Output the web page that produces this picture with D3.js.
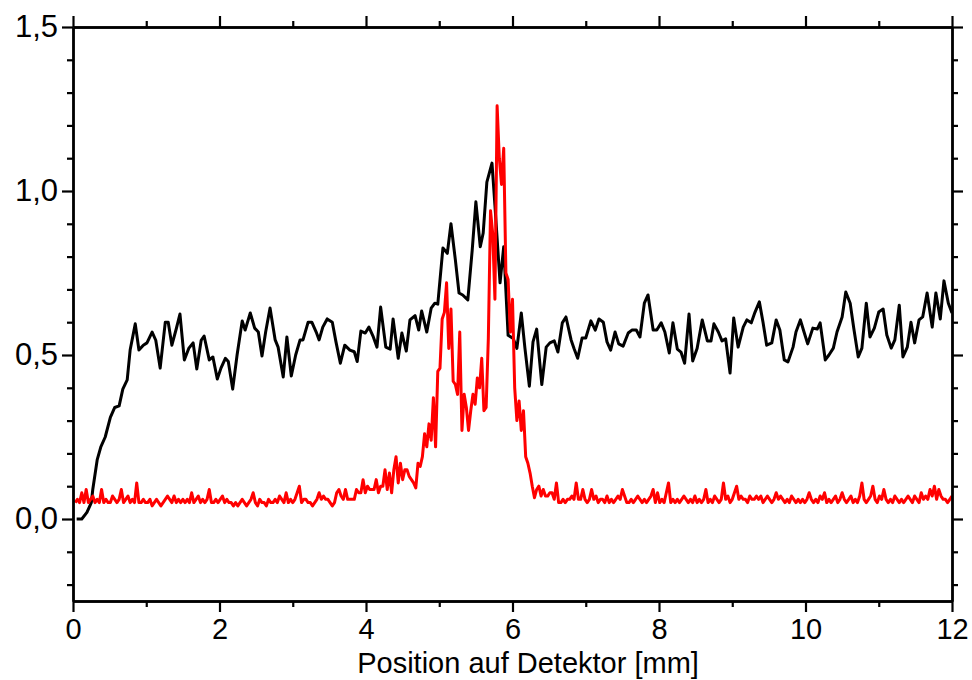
<!DOCTYPE html>
<html><head><meta charset="utf-8">
<script src="https://cdn.jsdelivr.net/npm/d3@7"></script>
<style>body{margin:0;background:#fff;} text{font-family:"Liberation Sans",Arial,sans-serif;}</style>
</head><body><svg id="c" width="972" height="680"></svg>
<script>
// ---- data ----
const blackPos = [0.05,0.12,0.19,0.25,0.27,0.33,0.38,0.44,0.51,0.57,0.63,0.68,0.74,0.78,0.85,0.90,0.96,1.01,1.08,1.13,1.19,1.26,1.30,1.35,1.41,1.46,1.52,1.58,1.64,1.69,1.75,1.79,1.86,1.91,1.97,2.02,2.08,2.12,2.18,2.24,2.31,2.35,2.42,2.48,2.53,2.58,2.63,2.69,2.76,2.80,2.87,2.92,2.98,3.04,3.10,3.14,3.21,3.26,3.32,3.36,3.41,3.47,3.54,3.59,3.65,3.71,3.78,3.84,3.88,3.93,3.99,4.04,4.10,4.15,4.20,4.27,4.33,4.37,4.44,4.49,4.55,4.60,4.67,4.72,4.76,4.83,4.89,4.94,4.98,5.05,5.11,5.16,5.22,5.27,5.32,5.39,5.45,5.50,5.56,5.60,5.65,5.72,5.76,5.83,5.88,5.94,6.01,6.06,6.12,6.17,6.23,6.28,6.33,6.40,6.46,6.51,6.57,6.62,6.68,6.73,6.80,6.84,6.89,6.95,7.00,7.07,7.13,7.18,7.24,7.29,7.34,7.40,7.45,7.51,7.58,7.63,7.69,7.74,7.80,7.85,7.92,7.97,8.03,8.08,8.14,8.19,8.25,8.30,8.35,8.41,8.46,8.52,8.59,8.66,8.71,8.75,8.81,8.86,8.91,8.97,9.02,9.08,9.15,9.20,9.26,9.31,9.37,9.42,9.47,9.54,9.60,9.65,9.71,9.76,9.83,9.87,9.93,9.98,10.03,10.10,10.16,10.20,10.27,10.32,10.38,10.43,10.50,10.55,10.61,10.66,10.72,10.77,10.83,10.88,10.94,11.00,11.06,11.11,11.17,11.22,11.28,11.33,11.39,11.44,11.49,11.55,11.60,11.66,11.73,11.78,11.84,11.89,11.95,12.00];
const blackVal = [0.0,0.0,0.02,0.05,0.09,0.18,0.22,0.25,0.31,0.34,0.345,0.396,0.424,0.515,0.595,0.515,0.53,0.537,0.57,0.545,0.46,0.60,0.60,0.53,0.58,0.625,0.485,0.52,0.537,0.457,0.545,0.558,0.485,0.494,0.427,0.46,0.49,0.48,0.396,0.50,0.604,0.576,0.628,0.582,0.57,0.497,0.57,0.643,0.546,0.524,0.433,0.555,0.436,0.50,0.546,0.546,0.60,0.60,0.57,0.546,0.585,0.61,0.60,0.54,0.475,0.53,0.515,0.51,0.48,0.573,0.567,0.585,0.555,0.524,0.646,0.524,0.518,0.61,0.49,0.567,0.512,0.607,0.62,0.576,0.634,0.57,0.643,0.658,0.655,0.826,0.81,0.90,0.79,0.689,0.683,0.668,0.82,0.967,0.83,0.872,1.027,1.085,0.957,0.72,0.83,0.56,0.55,0.52,0.628,0.52,0.405,0.54,0.579,0.41,0.524,0.537,0.543,0.509,0.598,0.616,0.546,0.52,0.49,0.552,0.552,0.604,0.576,0.61,0.60,0.54,0.515,0.57,0.534,0.527,0.567,0.576,0.576,0.555,0.658,0.683,0.576,0.576,0.598,0.57,0.506,0.598,0.518,0.509,0.475,0.625,0.482,0.52,0.607,0.543,0.543,0.595,0.57,0.543,0.549,0.445,0.613,0.524,0.585,0.607,0.598,0.63,0.662,0.60,0.53,0.537,0.607,0.576,0.485,0.479,0.524,0.57,0.607,0.57,0.534,0.582,0.579,0.598,0.485,0.50,0.521,0.57,0.616,0.692,0.658,0.58,0.494,0.521,0.658,0.555,0.582,0.631,0.64,0.561,0.521,0.546,0.652,0.494,0.524,0.60,0.537,0.607,0.616,0.689,0.585,0.689,0.61,0.726,0.658,0.628];
// red trace: detector sampled every 0.03 mm starting at 0.03 mm
const redStart = 0.03, redStep = 0.03;
const redVal = [
0.05,0.06,0.05,0.08,0.05,0.09,0.05,0.06,0.07,0.05,
0.06,0.05,0.09,0.05,0.06,0.05,0.05,0.07,0.06,0.05,
0.06,0.09,0.05,0.06,0.07,0.05,0.06,0.05,0.11,0.05,
0.05,0.06,0.05,0.05,0.06,0.04,0.05,0.06,0.05,0.04,
0.05,0.06,0.07,0.06,0.05,0.07,0.05,0.06,0.05,0.06,
0.05,0.06,0.05,0.08,0.05,0.06,0.07,0.05,0.06,0.05,
0.06,0.09,0.05,0.05,0.06,0.05,0.06,0.07,0.05,0.06,
0.05,0.05,0.04,0.05,0.04,0.05,0.06,0.05,0.04,0.05,
0.06,0.08,0.05,0.04,0.06,0.05,0.05,0.04,0.06,0.05,
0.05,0.06,0.05,0.07,0.06,0.05,0.08,0.05,0.06,0.05,
0.06,0.08,0.10,0.05,0.06,0.06,0.05,0.05,0.04,0.05,
0.06,0.08,0.06,0.07,0.06,0.06,0.05,0.04,0.05,0.08,
0.09,0.07,0.06,0.09,0.06,0.06,0.06,0.06,0.09,0.08,
0.08,0.12,0.08,0.10,0.09,0.09,0.09,0.12,0.08,0.10,
0.10,0.15,0.09,0.14,0.08,0.15,0.19,0.11,0.17,0.12,
0.15,0.15,0.13,0.12,0.11,0.095,0.17,0.16,0.19,0.26,
0.22,0.29,0.24,0.37,0.22,0.45,0.46,0.61,0.63,0.72,
0.52,0.64,0.42,0.41,0.38,0.57,0.27,0.38,0.34,0.27,
0.33,0.38,0.35,0.43,0.40,0.49,0.33,0.34,0.55,0.94,
0.87,0.67,1.26,1.10,1.02,1.13,0.75,0.73,0.57,0.67,
0.40,0.30,0.36,0.27,0.33,0.19,0.17,0.14,0.10,0.065,
0.09,0.10,0.07,0.09,0.07,0.07,0.08,0.08,0.06,0.11,
0.05,0.05,0.06,0.05,0.06,0.06,0.07,0.06,0.11,0.06,
0.06,0.09,0.06,0.05,0.06,0.09,0.06,0.07,0.05,0.06,
0.06,0.05,0.07,0.05,0.06,0.05,0.06,0.07,0.06,0.09,
0.07,0.05,0.05,0.06,0.05,0.06,0.07,0.06,0.05,0.06,
0.05,0.06,0.07,0.09,0.05,0.08,0.05,0.06,0.05,0.08,
0.11,0.05,0.06,0.05,0.06,0.05,0.06,0.07,0.06,0.05,
0.06,0.05,0.07,0.05,0.06,0.05,0.06,0.09,0.05,0.06,
0.05,0.07,0.06,0.05,0.06,0.11,0.06,0.07,0.05,0.06,
0.08,0.10,0.06,0.07,0.06,0.06,0.05,0.07,0.06,0.06,
0.07,0.06,0.07,0.05,0.06,0.07,0.06,0.05,0.06,0.08,
0.06,0.07,0.06,0.05,0.06,0.05,0.07,0.06,0.05,0.06,
0.05,0.06,0.05,0.06,0.08,0.06,0.05,0.06,0.05,0.07,
0.06,0.08,0.05,0.06,0.05,0.06,0.07,0.05,0.06,0.08,
0.06,0.05,0.06,0.07,0.05,0.06,0.05,0.07,0.11,0.06,
0.05,0.06,0.07,0.10,0.06,0.05,0.07,0.06,0.09,0.06,
0.05,0.06,0.05,0.07,0.06,0.05,0.06,0.05,0.06,0.07,
0.06,0.05,0.07,0.06,0.05,0.08,0.06,0.07,0.06,0.09,
0.07,0.10,0.06,0.09,0.07,0.06,0.06,0.05,0.06,0.07];
const xMajorTicks = [0,2,4,6,8,10,12];
const xMinorTicks = [1,3,5,7,9,11];
const yMajorTicks = [0,0.5,1.0,1.5];
const yMinorTicks = [-0.2,-0.1,0.1,0.2,0.3,0.4,0.6,0.7,0.8,0.9,1.1,1.2,1.3,1.4];
const xTitle = "Position auf Detektor [mm]";

// ---- layout ----
const L = 73, R = 952, T = 27, B = 601;
const svg = d3.select("#c");
const x = d3.scaleLinear().domain([0,12]).range([L,R]);
const y = d3.scaleLinear().domain([-0.25,1.5]).range([B,T]);
const fmtY = d => d3.format(".1f")(d).replace(".", ",");
const MAJ = 11, MIN = 6, FS = 30, FS_T = 29;

svg.append("defs").append("clipPath").attr("id","clip")
  .append("rect").attr("x",L).attr("y",T).attr("width",R-L).attr("height",B-T);

const blackData = blackPos.map((p,i)=>[p,blackVal[i]]);
const redData = redVal.map((v,i)=>[redStart+i*redStep, v]);
const line = d3.line().x(d=>x(d[0])).y(d=>y(d[1]));

const g = svg.append("g").attr("clip-path","url(#clip)");
g.append("path").datum(blackData).attr("d",line).attr("fill","none")
  .attr("stroke","#000").attr("stroke-width",3).attr("stroke-linejoin","round");
g.append("path").datum(redData).attr("d",line).attr("fill","none")
  .attr("stroke","#ff0000").attr("stroke-width",3).attr("stroke-linejoin","round");

function styleAxis(sel, fs){
  sel.selectAll("path.domain").attr("stroke","#000").attr("stroke-width",2.4);
  sel.selectAll(".tick line").attr("stroke","#000").attr("stroke-width",2.2);
  sel.selectAll("text").attr("font-size",fs || FS).attr("fill","#000")
    .style("font-family","'Liberation Sans',Arial,sans-serif");
}
// bottom
const bx = svg.append("g").attr("transform",`translate(0,${B})`)
  .call(d3.axisBottom(x).tickValues(xMajorTicks).tickSize(MAJ).tickSizeOuter(0).tickPadding(6).tickFormat(d3.format("d")));
styleAxis(bx, FS_T);
const bxm = svg.append("g").attr("transform",`translate(0,${B})`)
  .call(d3.axisBottom(x).tickValues(xMinorTicks).tickSize(MIN).tickSizeOuter(0).tickFormat(""));
styleAxis(bxm);
// top
const tx = svg.append("g").attr("transform",`translate(0,${T})`)
  .call(d3.axisTop(x).tickValues(xMajorTicks).tickSize(MAJ).tickSizeOuter(0).tickFormat(""));
styleAxis(tx);
const txm = svg.append("g").attr("transform",`translate(0,${T})`)
  .call(d3.axisTop(x).tickValues(xMinorTicks).tickSize(MIN).tickSizeOuter(0).tickFormat(""));
styleAxis(txm);
// left
const ly = svg.append("g").attr("transform",`translate(${L},0)`)
  .call(d3.axisLeft(y).tickValues(yMajorTicks).tickSize(MAJ).tickSizeOuter(0).tickPadding(4).tickFormat(fmtY));
styleAxis(ly, 31);
const lym = svg.append("g").attr("transform",`translate(${L},0)`)
  .call(d3.axisLeft(y).tickValues(yMinorTicks).tickSize(MIN).tickSizeOuter(0).tickFormat(""));
styleAxis(lym);
// right
const ry = svg.append("g").attr("transform",`translate(${R},0)`)
  .call(d3.axisRight(y).tickValues(yMajorTicks).tickSize(MAJ).tickSizeOuter(0).tickFormat(""));
styleAxis(ry);
const rym = svg.append("g").attr("transform",`translate(${R},0)`)
  .call(d3.axisRight(y).tickValues(yMinorTicks).tickSize(MIN).tickSizeOuter(0).tickFormat(""));
styleAxis(rym);

svg.append("text").attr("x",528).attr("y",673).attr("text-anchor","middle")
  .attr("font-size",FS_T).attr("fill","#000").text(xTitle);
</script></body></html>
